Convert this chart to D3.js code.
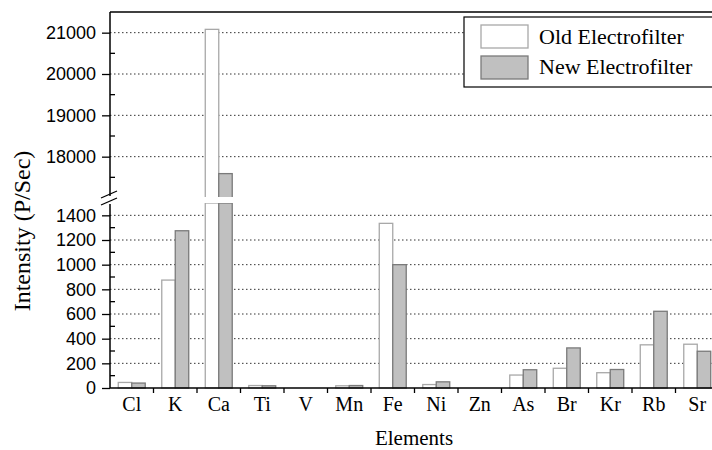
<!DOCTYPE html>
<html>
<head>
    <meta charset="utf-8">
    <script src="https://d3js.org/d3.v7.min.js"></script>
    <style>
        body { margin: 0; background: white; }
        svg { display: block; }
    </style>
</head>
<body>
<svg width="712" height="450"></svg>

<script>
    // data
    let elements = ["Cl", "K", "Ca", "Ti", "V", "Mn", "Fe", "Ni", "Zn", "As", "Br", "Kr", "Rb", "Sr"];
    let oldFilter = [45, 875, 21080, 20, 0, 18, 1335, 28, 0, 105, 160, 124, 350, 355];
    let newFilter = [40, 1275, 17590, 18, 0, 20, 1000, 50, 0, 148, 325, 150, 622, 298];
    let lowTicks = [0, 200, 400, 600, 800, 1000, 1200, 1400];
    let highTicks = [18000, 19000, 20000, 21000];
    let seriesNames = ["Old Electrofilter", "New Electrofilter"];

    let svg = d3.select("svg")

    let plotLeft = 110, plotRight = 719, plotTop = 12, plotBottom = 388;
    let breakLow = 203, breakHigh = 198;

    // two y scales for the broken axis
    let yLow = d3.scaleLinear().domain([0, 1500]).range([plotBottom, breakLow])
    let yHigh = d3.scaleLinear().domain([17000, 21500]).range([breakHigh, plotTop])

    let x = d3.scaleBand().domain(elements).range([plotLeft, plotRight])
    let xSub = d3.scaleBand().domain(["old", "new"])
        .range([x.bandwidth() * 0.19, x.bandwidth() * 0.81])

    // dotted grid
    let grid = svg.append("g")
    grid.selectAll(".gl")
        .data(lowTicks.filter(d => d > 0))
        .join("line")
        .attr("x1", plotLeft).attr("x2", 712)
        .attr("y1", d => yLow(d)).attr("y2", d => yLow(d))
    grid.selectAll(".gh")
        .data(highTicks)
        .join("line")
        .attr("x1", plotLeft).attr("x2", 712)
        .attr("y1", d => yHigh(d)).attr("y2", d => yHigh(d))
    grid.selectAll("line")
        .style("stroke", "#333")
        .style("stroke-width", 1)
        .style("stroke-dasharray", "1.5,2.5")

    // bars
    let rows = elements.map((e, i) => [
        { el: e, key: "old", v: oldFilter[i] },
        { el: e, key: "new", v: newFilter[i] }
    ]).flat()

    let fill = { old: "#ffffff", new: "#c0c0c0" }
    let edge = { old: "#a8a8a8", new: "#7a7a7a" }

    let bars = svg.append("g")
    rows.filter(d => d.v > 0).forEach(d => {
        let bx = x(d.el) + xSub(d.key)
        let bw = xSub.bandwidth()
        let lowTop = d.v > 1500 ? yLow(1500) : yLow(d.v)
        bars.append("rect")
            .attr("x", bx).attr("y", lowTop)
            .attr("width", bw).attr("height", plotBottom - lowTop)
            .style("fill", fill[d.key])
            .style("stroke", edge[d.key])
            .style("stroke-width", 1.3)
        if (d.v > 17000) {
            bars.append("rect")
                .attr("x", bx).attr("y", yHigh(d.v))
                .attr("width", bw).attr("height", breakHigh - yHigh(d.v))
                .style("fill", fill[d.key])
                .style("stroke", edge[d.key])
                .style("stroke-width", 1.3)
        }
    })

    // white gap of the break across the bars
    svg.append("rect")
        .attr("x", plotLeft + 2).attr("y", breakHigh - 1)
        .attr("width", 712 - plotLeft).attr("height", breakLow - breakHigh + 1)
        .style("fill", "white")

    // frame
    svg.append("line")
        .attr("x1", plotLeft).attr("x2", 712).attr("y1", plotTop).attr("y2", plotTop)
        .style("stroke", "black").style("stroke-width", 1.5)
    svg.append("line")
        .attr("x1", plotLeft).attr("x2", plotLeft).attr("y1", plotTop).attr("y2", breakHigh - 2)
        .style("stroke", "black").style("stroke-width", 1.5)
    svg.append("line")
        .attr("x1", plotLeft).attr("x2", plotLeft).attr("y1", breakLow + 1).attr("y2", plotBottom)
        .style("stroke", "black").style("stroke-width", 1.5)
    svg.append("line")
        .attr("x1", plotLeft).attr("x2", 712).attr("y1", plotBottom).attr("y2", plotBottom)
        .style("stroke", "black").style("stroke-width", 1.5)

    // break marks
    svg.append("line")
        .attr("x1", 101).attr("y1", 198).attr("x2", 117).attr("y2", 191)
        .style("stroke", "black").style("stroke-width", 1.3)
    svg.append("line")
        .attr("x1", 101).attr("y1", 205).attr("x2", 117).attr("y2", 198)
        .style("stroke", "black").style("stroke-width", 1.3)

    // y axis ticks
    let yLowAxis = d3.axisLeft(yLow).tickValues(lowTicks).tickFormat(d3.format("d")).tickSize(8).tickSizeOuter(0)
    let yHighAxis = d3.axisLeft(yHigh).tickValues(highTicks).tickFormat(d3.format("d")).tickSize(8).tickSizeOuter(0)
    let ya = svg.append("g").attr("transform", `translate(${plotLeft},0)`).call(yLowAxis)
    let yb = svg.append("g").attr("transform", `translate(${plotLeft},0)`).call(yHighAxis)
    for (let g of [ya, yb]) {
        g.select(".domain").remove()
        g.selectAll(".tick line").style("stroke", "black").style("stroke-width", 1.3)
        g.selectAll("text")
            .attr("x", -14)
            .style("font-family", "'Liberation Sans', Arial, sans-serif")
            .style("font-size", "18px")
            .style("fill", "black")
    }

    // minor ticks (inward)
    let lowMinor = d3.range(100, 1500, 200)
    let highMinor = d3.range(17500, 21500, 1000)
    let minor = svg.append("g")
    minor.selectAll(".ml").data(lowMinor).join("line")
        .attr("x1", plotLeft).attr("x2", plotLeft + 5)
        .attr("y1", d => yLow(d)).attr("y2", d => yLow(d))
    minor.selectAll(".mh").data(highMinor).join("line")
        .attr("x1", plotLeft).attr("x2", plotLeft + 5)
        .attr("y1", d => yHigh(d)).attr("y2", d => yHigh(d))
    minor.selectAll("line").style("stroke", "black").style("stroke-width", 1.3)

    // x axis ticks between categories
    let bounds = elements.map(e => x(e)).slice(1).concat([x(elements[elements.length - 1]) + x.bandwidth()])
    svg.append("g").selectAll("line").data(bounds).join("line")
        .attr("x1", d => d).attr("x2", d => d)
        .attr("y1", plotBottom).attr("y2", plotBottom + 5)
        .style("stroke", "black").style("stroke-width", 1.3)

    svg.append("g").selectAll("text").data(elements).join("text")
        .attr("x", d => x(d) + x.bandwidth() / 2)
        .attr("y", 411)
        .attr("text-anchor", "middle")
        .style("font-family", "'Liberation Serif', 'Times New Roman', serif")
        .style("font-size", "20px")
        .text(d => d)

    // axis titles
    svg.append("text")
        .attr("x", 414).attr("y", 445)
        .attr("text-anchor", "middle")
        .style("font-family", "'Liberation Serif', 'Times New Roman', serif")
        .style("font-size", "21px")
        .text("Elements")

    svg.append("text")
        .attr("transform", "translate(30,231) rotate(-90)")
        .attr("text-anchor", "middle")
        .style("font-family", "'Liberation Serif', 'Times New Roman', serif")
        .style("font-size", "24px")
        .text("Intensity (P/Sec)")

    // legend
    let legend = svg.append("g")
    legend.append("rect")
        .attr("x", 464).attr("y", 17).attr("width", 270).attr("height", 70)
        .style("fill", "white").style("stroke", "black").style("stroke-width", 1.2)
    seriesNames.forEach((name, i) => {
        let key = i == 0 ? "old" : "new"
        legend.append("rect")
            .attr("x", 481).attr("y", 25 + i * 31)
            .attr("width", 47).attr("height", 23)
            .style("fill", fill[key]).style("stroke", edge[key]).style("stroke-width", 1.3)
        legend.append("text")
            .attr("x", 539).attr("y", 44 + i * 30)
            .style("font-family", "'Liberation Serif', 'Times New Roman', serif")
            .style("font-size", "22px")
            .text(name)
    })
</script>
</body>
</html>
